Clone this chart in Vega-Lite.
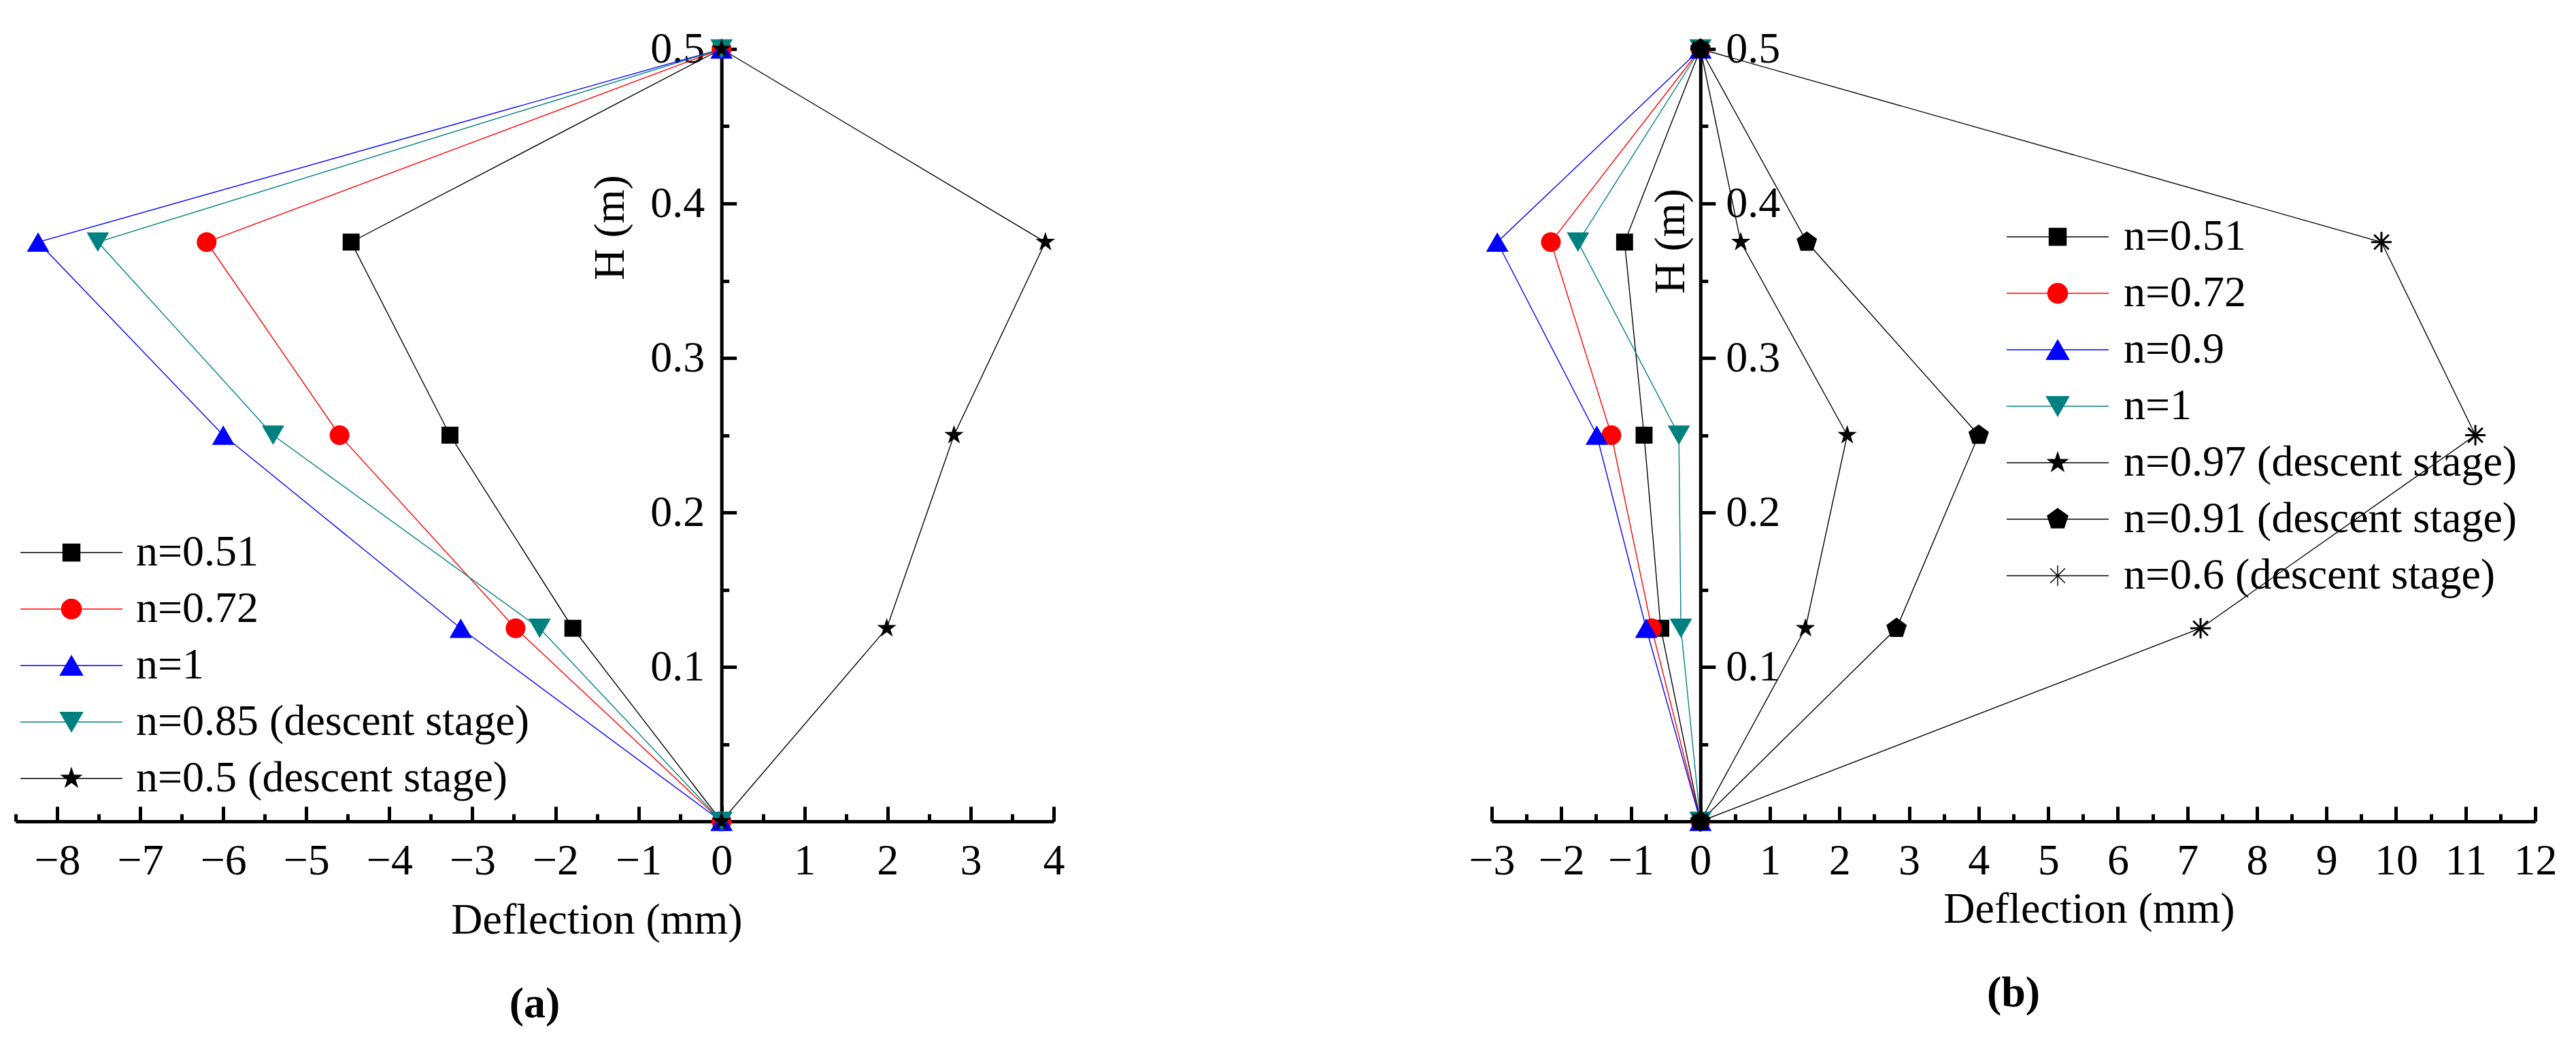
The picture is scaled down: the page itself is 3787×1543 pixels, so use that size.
{
  "$schema": "https://vega.github.io/schema/vega-lite/v6.json",
  "background": "white",
  "padding": {"left": 20, "top": 40, "right": 10, "bottom": 10},
  "config": {
    "view": {"stroke": null},
    "font": "Liberation Serif",
    "axis": {
      "grid": false,
      "labelFont": "Liberation Serif",
      "labelFontSize": 64,
      "labelColor": "#000000",
      "titleFont": "Liberation Serif",
      "titleFontSize": 64,
      "titleFontWeight": "normal",
      "titleColor": "#000000",
      "domainColor": "#000000",
      "domainWidth": 5,
      "tickColor": "#000000",
      "tickWidth": 5,
      "labelFlush": false,
      "labelOverlap": false,
      "labelBound": false
    },
    "legend": {
      "labelFont": "Liberation Serif",
      "labelFontSize": 64,
      "labelColor": "#000000",
      "labelLimit": 2000
    }
  },
  "datasets": {
    "a": [
      {"s": "n=0.51", "d": 0, "H": 0}, {"s": "n=0.51", "d": -1.79, "H": 0.125}, {"s": "n=0.51", "d": -3.27, "H": 0.25}, {"s": "n=0.51", "d": -4.46, "H": 0.375}, {"s": "n=0.51", "d": 0, "H": 0.5},
      {"s": "n=0.72", "d": 0, "H": 0}, {"s": "n=0.72", "d": -2.48, "H": 0.125}, {"s": "n=0.72", "d": -4.6, "H": 0.25}, {"s": "n=0.72", "d": -6.2, "H": 0.375}, {"s": "n=0.72", "d": 0, "H": 0.5},
      {"s": "n=1", "d": 0, "H": 0}, {"s": "n=1", "d": -3.14, "H": 0.125}, {"s": "n=1", "d": -6.0, "H": 0.25}, {"s": "n=1", "d": -8.23, "H": 0.375}, {"s": "n=1", "d": 0, "H": 0.5},
      {"s": "n=0.85 (descent stage)", "d": 0, "H": 0}, {"s": "n=0.85 (descent stage)", "d": -2.19, "H": 0.125}, {"s": "n=0.85 (descent stage)", "d": -5.4, "H": 0.25}, {"s": "n=0.85 (descent stage)", "d": -7.51, "H": 0.375}, {"s": "n=0.85 (descent stage)", "d": 0, "H": 0.5},
      {"s": "n=0.5 (descent stage)", "d": 0, "H": 0}, {"s": "n=0.5 (descent stage)", "d": 1.99, "H": 0.125}, {"s": "n=0.5 (descent stage)", "d": 2.8, "H": 0.25}, {"s": "n=0.5 (descent stage)", "d": 3.9, "H": 0.375}, {"s": "n=0.5 (descent stage)", "d": 0, "H": 0.5}
    ],
    "b": [
      {"s": "n=0.51", "d": 0, "H": 0}, {"s": "n=0.51", "d": -0.57, "H": 0.125}, {"s": "n=0.51", "d": -0.81, "H": 0.25}, {"s": "n=0.51", "d": -1.09, "H": 0.375}, {"s": "n=0.51", "d": 0, "H": 0.5},
      {"s": "n=0.72", "d": 0, "H": 0}, {"s": "n=0.72", "d": -0.7, "H": 0.125}, {"s": "n=0.72", "d": -1.28, "H": 0.25}, {"s": "n=0.72", "d": -2.15, "H": 0.375}, {"s": "n=0.72", "d": 0, "H": 0.5},
      {"s": "n=0.9", "d": 0, "H": 0}, {"s": "n=0.9", "d": -0.78, "H": 0.125}, {"s": "n=0.9", "d": -1.49, "H": 0.25}, {"s": "n=0.9", "d": -2.92, "H": 0.375}, {"s": "n=0.9", "d": 0, "H": 0.5},
      {"s": "n=1", "d": 0, "H": 0}, {"s": "n=1", "d": -0.28, "H": 0.125}, {"s": "n=1", "d": -0.31, "H": 0.25}, {"s": "n=1", "d": -1.76, "H": 0.375}, {"s": "n=1", "d": 0, "H": 0.5},
      {"s": "n=0.97 (descent stage)", "d": 0, "H": 0}, {"s": "n=0.97 (descent stage)", "d": 1.51, "H": 0.125}, {"s": "n=0.97 (descent stage)", "d": 2.11, "H": 0.25}, {"s": "n=0.97 (descent stage)", "d": 0.58, "H": 0.375}, {"s": "n=0.97 (descent stage)", "d": 0, "H": 0.5},
      {"s": "n=0.91 (descent stage)", "d": 0, "H": 0}, {"s": "n=0.91 (descent stage)", "d": 2.82, "H": 0.125}, {"s": "n=0.91 (descent stage)", "d": 4.0, "H": 0.25}, {"s": "n=0.91 (descent stage)", "d": 1.53, "H": 0.375}, {"s": "n=0.91 (descent stage)", "d": 0, "H": 0.5},
      {"s": "n=0.6 (descent stage)", "d": 0, "H": 0}, {"s": "n=0.6 (descent stage)", "d": 7.19, "H": 0.125}, {"s": "n=0.6 (descent stage)", "d": 11.14, "H": 0.25}, {"s": "n=0.6 (descent stage)", "d": 9.79, "H": 0.375}, {"s": "n=0.6 (descent stage)", "d": 0, "H": 0.5}
    ]
  },
  "spacing": 644,
  "bounds": "flush",
  "resolve": {
    "scale": {"x": "independent", "y": "independent", "color": "independent", "fill": "independent", "stroke": "independent", "shape": "independent"}
  },
  "hconcat": [
    {
      "width": 1526,
      "height": 1135,
      "data": {"name": "a"},
      "title": {"text": "(a)", "orient": "bottom", "anchor": "middle", "font": "Liberation Serif", "fontSize": 64, "fontWeight": "bold", "color": "#000000", "offset": 60},
      "encoding": {
        "x": {
          "field": "d", "type": "quantitative",
          "scale": {"domain": [-8.5, 4], "nice": false, "zero": false},
          "axis": {
            "title": "Deflection (mm)",
            "values": [-8.5, -8, -7.5, -7, -6.5, -6, -5.5, -5, -4.5, -4, -3.5, -3, -2.5, -2, -1.5, -1, -0.5, 0, 0.5, 1, 1.5, 2, 2.5, 3, 3.5, 4],
            "labelExpr": "datum.value % 1 === 0 ? format(datum.value, '.0f') : ''",
            "tickSize": {"condition": {"test": "datum.value % 1 === 0", "value": -22}, "value": -11},
            "labelPadding": 48,
            "titleX": 854, "titleY": 145, "titleBaseline": "middle", "titleAlign": "center"
          }
        },
        "y": {
          "field": "H", "type": "quantitative",
          "scale": {"domain": [0, 0.5], "nice": false, "zero": false},
          "axis": {
            "title": "H (m)", "orient": "left", "offset": -1037.7,
            "values": [0, 0.05, 0.1, 0.15, 0.2, 0.25, 0.3, 0.35, 0.4, 0.45, 0.5],
            "labelExpr": "datum.value > 0.01 && abs(datum.value*10 - round(datum.value*10)) < 0.001 ? format(datum.value, '.1f') : ''",
            "tickSize": {"condition": {"test": "abs(datum.value*10 - round(datum.value*10)) < 0.001", "value": -22}, "value": -11},
            "labelPadding": 47,
            "titleX": -163, "titleY": 262, "titleAngle": 270, "titleBaseline": "middle", "titleAlign": "center"
          }
        }
      },
      "layer": [
        {
          "mark": {"type": "line", "strokeWidth": 1.4},
          "encoding": {
            "color": {"field": "s", "type": "nominal", "legend": null,
              "scale": {"domain": ["n=0.5 (descent stage)", "n=0.85 (descent stage)", "n=1", "n=0.72", "n=0.51"], "range": ["#000000", "#008080", "#0000ff", "#ff0000", "#000000"]}},
            "order": {"field": "H", "type": "quantitative"}
          }
        },
        {"transform": [{"filter": "datum.s === 'n=0.51'"}], "mark": {"type": "point", "filled": true, "opacity": 1, "size": 900, "color": "#000000", "shape": "M-0.83,-0.83H0.83V0.83H-0.83Z"}},
        {"transform": [{"filter": "datum.s === 'n=0.72'"}], "mark": {"type": "point", "filled": true, "opacity": 1, "size": 900, "color": "#ff0000", "shape": "M0.97,0A0.97,0.97,0,1,1,-0.97,0A0.97,0.97,0,1,1,0.97,0Z"}},
        {"transform": [{"filter": "datum.s === 'n=1'"}], "mark": {"type": "point", "filled": true, "opacity": 1, "size": 900, "color": "#0000ff", "shape": "M0,-0.95L1.1,0.95L-1.1,0.95Z"}},
        {"transform": [{"filter": "datum.s === 'n=0.85 (descent stage)'"}], "mark": {"type": "point", "filled": true, "opacity": 1, "size": 900, "color": "#008080", "shape": "M0,0.95L1.1,-0.95L-1.1,-0.95Z"}},
        {"transform": [{"filter": "datum.s === 'n=0.5 (descent stage)'"}], "mark": {"type": "point", "filled": true, "opacity": 1, "size": 900, "color": "#000000", "shape": "M0,-1L0.225,-0.309L0.951,-0.309L0.363,0.118L0.588,0.809L0,0.382L-0.588,0.809L-0.363,0.118L-0.951,-0.309L-0.225,-0.309Z"}},
        {
          "transform": [{"filter": "datum.H === 0.5"}],
          "mark": {"type": "point", "filled": true, "opacity": 0, "size": 0},
          "encoding": {
            "fill": {"field": "s", "type": "nominal",
              "scale": {"domain": ["n=0.51", "n=0.72", "n=1", "n=0.85 (descent stage)", "n=0.5 (descent stage)"], "range": ["#000000", "#ff0000", "#0000ff", "#008080", "#000000"]},
              "legend": {"orient": "none", "legendX": 50, "legendY": 708, "title": null, "padding": 0, "labelOffset": 63, "symbolSize": 900, "symbolStrokeWidth": 1.5, "symbolOpacity": 1, "rowPadding": 19}},
            "stroke": {"field": "s", "type": "nominal",
              "scale": {"domain": ["n=0.51", "n=0.72", "n=1", "n=0.85 (descent stage)", "n=0.5 (descent stage)"], "range": ["#000000", "#ff0000", "#0000ff", "#008080", "#000000"]},
              "legend": {"orient": "none", "legendX": 50, "legendY": 708, "title": null, "padding": 0, "labelOffset": 63, "symbolSize": 900, "symbolStrokeWidth": 1.5, "symbolOpacity": 1, "rowPadding": 19}},
            "shape": {"field": "s", "type": "nominal",
              "scale": {"domain": ["n=0.51", "n=0.72", "n=1", "n=0.85 (descent stage)", "n=0.5 (descent stage)"],
                "range": ["M-5,0H5M-0.83,-0.83H0.83V0.83H-0.83Z", "M-5,0H5M0.97,0A0.97,0.97,0,1,1,-0.97,0A0.97,0.97,0,1,1,0.97,0Z", "M-5,0H5M0,-0.95L1.1,0.95L-1.1,0.95Z", "M-5,0H5M0,0.95L1.1,-0.95L-1.1,-0.95Z", "M-5,0H5M0,-1L0.225,-0.309L0.951,-0.309L0.363,0.118L0.588,0.809L0,0.382L-0.588,0.809L-0.363,0.118L-0.951,-0.309L-0.225,-0.309Z"]},
              "legend": {"orient": "none", "legendX": 50, "legendY": 708, "title": null, "padding": 0, "labelOffset": 63, "symbolSize": 900, "symbolStrokeWidth": 1.5, "symbolOpacity": 1, "rowPadding": 19}}
          }
        }
      ]
    },
    {
      "width": 1534,
      "height": 1135,
      "data": {"name": "b"},
      "title": {"text": "(b)", "orient": "bottom", "anchor": "middle", "font": "Liberation Serif", "fontSize": 64, "fontWeight": "bold", "color": "#000000", "offset": 60},
      "encoding": {
        "x": {
          "field": "d", "type": "quantitative",
          "scale": {"domain": [-3, 12], "nice": false, "zero": false},
          "axis": {
            "title": "Deflection (mm)",
            "values": [-3, -2.5, -2, -1.5, -1, -0.5, 0, 0.5, 1, 1.5, 2, 2.5, 3, 3.5, 4, 4.5, 5, 5.5, 6, 6.5, 7, 7.5, 8, 8.5, 9, 9.5, 10, 10.5, 11, 11.5, 12],
            "labelExpr": "datum.value % 1 === 0 ? format(datum.value, '.0f') : ''",
            "tickSize": {"condition": {"test": "datum.value % 1 === 0", "value": -22}, "value": -11},
            "labelPadding": 48,
            "titleX": 878, "titleY": 129, "titleBaseline": "middle", "titleAlign": "center"
          }
        },
        "y": {
          "field": "H", "type": "quantitative",
          "scale": {"domain": [0, 0.5], "nice": false, "zero": false},
          "axis": {
            "title": "H (m)", "orient": "right", "offset": -1227.2,
            "values": [0, 0.05, 0.1, 0.15, 0.2, 0.25, 0.3, 0.35, 0.4, 0.45, 0.5],
            "labelExpr": "datum.value > 0.01 && abs(datum.value*10 - round(datum.value*10)) < 0.001 ? format(datum.value, '.1f') : ''",
            "tickSize": {"condition": {"test": "abs(datum.value*10 - round(datum.value*10)) < 0.001", "value": 22}, "value": 11},
            "labelPadding": 15,
            "titleX": -43, "titleY": 282, "titleAngle": 270, "titleBaseline": "middle", "titleAlign": "center"
          }
        }
      },
      "layer": [
        {
          "mark": {"type": "line", "strokeWidth": 1.4},
          "encoding": {
            "color": {"field": "s", "type": "nominal", "legend": null,
              "scale": {"domain": ["n=0.6 (descent stage)", "n=0.91 (descent stage)", "n=0.97 (descent stage)", "n=1", "n=0.9", "n=0.72", "n=0.51"], "range": ["#000000", "#000000", "#000000", "#008080", "#0000ff", "#ff0000", "#000000"]}},
            "order": {"field": "H", "type": "quantitative"}
          }
        },
        {"transform": [{"filter": "datum.s === 'n=0.51'"}], "mark": {"type": "point", "filled": true, "opacity": 1, "size": 900, "color": "#000000", "shape": "M-0.83,-0.83H0.83V0.83H-0.83Z"}},
        {"transform": [{"filter": "datum.s === 'n=0.72'"}], "mark": {"type": "point", "filled": true, "opacity": 1, "size": 900, "color": "#ff0000", "shape": "M0.97,0A0.97,0.97,0,1,1,-0.97,0A0.97,0.97,0,1,1,0.97,0Z"}},
        {"transform": [{"filter": "datum.s === 'n=0.9'"}], "mark": {"type": "point", "filled": true, "opacity": 1, "size": 900, "color": "#0000ff", "shape": "M0,-0.95L1.1,0.95L-1.1,0.95Z"}},
        {"transform": [{"filter": "datum.s === 'n=1'"}], "mark": {"type": "point", "filled": true, "opacity": 1, "size": 900, "color": "#008080", "shape": "M0,0.95L1.1,-0.95L-1.1,-0.95Z"}},
        {"transform": [{"filter": "datum.s === 'n=0.97 (descent stage)'"}], "mark": {"type": "point", "filled": true, "opacity": 1, "size": 900, "color": "#000000", "shape": "M0,-1L0.225,-0.309L0.951,-0.309L0.363,0.118L0.588,0.809L0,0.382L-0.588,0.809L-0.363,0.118L-0.951,-0.309L-0.225,-0.309Z"}},
        {"transform": [{"filter": "datum.s === 'n=0.91 (descent stage)'"}], "mark": {"type": "point", "filled": true, "opacity": 1, "size": 900, "color": "#000000", "shape": "M0,-1.05L1,-0.324L0.617,0.849L-0.617,0.849L-1,-0.324Z"}},
        {"transform": [{"filter": "datum.s === 'n=0.6 (descent stage)'"}], "mark": {"type": "point", "filled": true, "opacity": 1, "size": 900, "color": "#000000", "shape": "M-0.1,-1H0.1V1H-0.1ZM-1,-0.1H1V0.1H-1ZM-0.65,-0.79L0.79,0.65L0.65,0.79L-0.79,-0.65ZM0.79,-0.65L-0.65,0.79L-0.79,0.65L0.65,-0.79Z"}},
        {
          "transform": [{"filter": "datum.H === 0.5"}],
          "mark": {"type": "point", "filled": true, "opacity": 0, "size": 0},
          "encoding": {
            "fill": {"field": "s", "type": "nominal",
              "scale": {"domain": ["n=0.51", "n=0.72", "n=0.9", "n=1", "n=0.97 (descent stage)", "n=0.91 (descent stage)", "n=0.6 (descent stage)"], "range": ["#000000", "#ff0000", "#0000ff", "#008080", "#000000", "#000000", "#000000"]},
              "legend": {"orient": "none", "legendX": 800, "legendY": 244, "title": null, "padding": 0, "labelOffset": 65, "symbolSize": 900, "symbolStrokeWidth": 1.5, "symbolOpacity": 1, "rowPadding": 19}},
            "stroke": {"field": "s", "type": "nominal",
              "scale": {"domain": ["n=0.51", "n=0.72", "n=0.9", "n=1", "n=0.97 (descent stage)", "n=0.91 (descent stage)", "n=0.6 (descent stage)"], "range": ["#000000", "#ff0000", "#0000ff", "#008080", "#000000", "#000000", "#000000"]},
              "legend": {"orient": "none", "legendX": 800, "legendY": 244, "title": null, "padding": 0, "labelOffset": 65, "symbolSize": 900, "symbolStrokeWidth": 1.5, "symbolOpacity": 1, "rowPadding": 19}},
            "shape": {"field": "s", "type": "nominal",
              "scale": {"domain": ["n=0.51", "n=0.72", "n=0.9", "n=1", "n=0.97 (descent stage)", "n=0.91 (descent stage)", "n=0.6 (descent stage)"],
                "range": ["M-5,0H5M-0.83,-0.83H0.83V0.83H-0.83Z", "M-5,0H5M0.97,0A0.97,0.97,0,1,1,-0.97,0A0.97,0.97,0,1,1,0.97,0Z", "M-5,0H5M0,-0.95L1.1,0.95L-1.1,0.95Z", "M-5,0H5M0,0.95L1.1,-0.95L-1.1,-0.95Z", "M-5,0H5M0,-1L0.225,-0.309L0.951,-0.309L0.363,0.118L0.588,0.809L0,0.382L-0.588,0.809L-0.363,0.118L-0.951,-0.309L-0.225,-0.309Z", "M-5,0H5M0,-1.05L1,-0.324L0.617,0.849L-0.617,0.849L-1,-0.324Z", "M-5,0H5M0,-1V1M-0.72,-0.72L0.72,0.72M-0.72,0.72L0.72,-0.72"]},
              "legend": {"orient": "none", "legendX": 800, "legendY": 244, "title": null, "padding": 0, "labelOffset": 65, "symbolSize": 900, "symbolStrokeWidth": 1.5, "symbolOpacity": 1, "rowPadding": 19}}
          }
        }
      ]
    }
  ]
}
